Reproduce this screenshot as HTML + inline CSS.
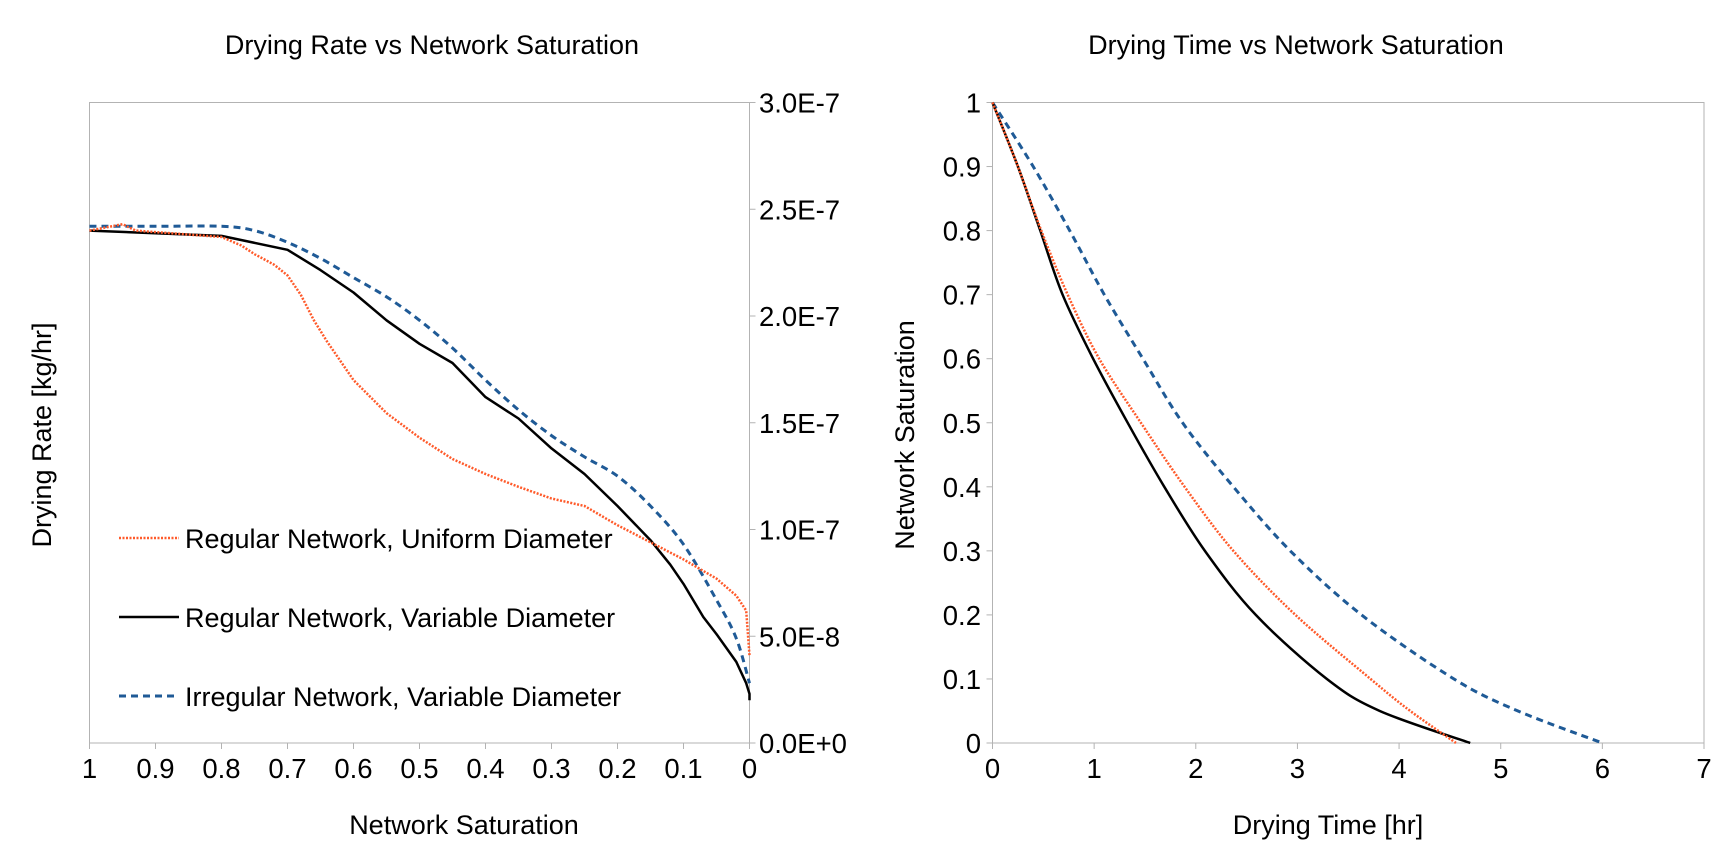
<!DOCTYPE html>
<html><head><meta charset="utf-8"><style>
body{margin:0;background:#fff;}
svg{display:block;font-family:"Liberation Sans",sans-serif;}
</style></head><body>
<svg id="svg" width="1728" height="864" viewBox="0 0 1728 864">
<text x="432" y="54" font-size="27" text-anchor="middle">Drying Rate vs Network Saturation</text>
<text x="1296" y="54" font-size="27" text-anchor="middle">Drying Time vs Network Saturation</text>
<rect x="89.5" y="102.5" width="660" height="640.5" fill="none" stroke="#b3b3b3" stroke-width="1"/>
<rect x="992.5" y="102.5" width="711.5" height="640.5" fill="none" stroke="#b3b3b3" stroke-width="1"/>
<text x="0" y="0" font-size="27" text-anchor="middle" transform="translate(51,435) rotate(-90)">Drying Rate [kg/hr]</text>
<text x="0" y="0" font-size="27" text-anchor="middle" transform="translate(914,435) rotate(-90)">Network Saturation</text>
<text x="464" y="834" font-size="27" text-anchor="middle">Network Saturation</text>
<text x="1328" y="834" font-size="27" text-anchor="middle">Drying Time [hr]</text>
<g id="g"></g>
<g>
<line x1="119" y1="538" x2="179" y2="538" stroke="#ff5a2a" stroke-width="2.5" stroke-dasharray="2,1.5"/>
<text x="185" y="548" font-size="27">Regular Network, Uniform Diameter</text>
<line x1="119" y1="617" x2="179" y2="617" stroke="#000" stroke-width="2.5"/>
<text x="185" y="627" font-size="27">Regular Network, Variable Diameter</text>
<line x1="119" y1="696" x2="179" y2="696" stroke="#1f5a96" stroke-width="3" stroke-dasharray="7,5"/>
<text x="185" y="706" font-size="27">Irregular Network, Variable Diameter</text>
</g>
</svg>
<script>
const leftXTicks=[1,0.9,0.8,0.7,0.6,0.5,0.4,0.3,0.2,0.1,0];
const leftXLabels=["1","0.9","0.8","0.7","0.6","0.5","0.4","0.3","0.2","0.1","0"];
const leftYTicks=[0,5e-8,1e-7,1.5e-7,2e-7,2.5e-7,3e-7];
const leftYLabels=["0.0E+0","5.0E-8","1.0E-7","1.5E-7","2.0E-7","2.5E-7","3.0E-7"];
const rightXTicks=[0,1,2,3,4,5,6,7];
const rightYTicks=[0,0.1,0.2,0.3,0.4,0.5,0.6,0.7,0.8,0.9,1];
const rightYLabels=["0","0.1","0.2","0.3","0.4","0.5","0.6","0.7","0.8","0.9","1"];
// Left: saturation vs drying rate (e-7)
const uniSat=[1,0.95,0.93,0.8,0.77,0.75,0.72,0.7,0.68,0.66,0.64,0.62,0.6,0.55,0.5,0.45,0.4,0.35,0.3,0.25,0.2,0.15,0.1,0.05,0.02,0.005,0];
const uniRate=[2.40,2.43,2.40,2.37,2.33,2.29,2.24,2.19,2.10,1.98,1.88,1.79,1.70,1.545,1.43,1.33,1.26,1.20,1.145,1.11,1.02,0.94,0.86,0.77,0.69,0.62,0.41];
const varSat=[1,0.8,0.7,0.65,0.6,0.55,0.5,0.45,0.4,0.35,0.3,0.25,0.2,0.15,0.12,0.1,0.07,0.05,0.02,0.005,0,0];
const varRate=[2.40,2.375,2.31,2.215,2.11,1.98,1.87,1.78,1.62,1.52,1.38,1.26,1.11,0.95,0.835,0.745,0.59,0.51,0.38,0.28,0.23,0.2];
const irrSat=[1,0.9,0.8,0.75,0.7,0.65,0.6,0.55,0.5,0.45,0.4,0.35,0.3,0.25,0.2,0.15,0.1,0.05,0.02,0];
const irrRate=[2.42,2.42,2.42,2.40,2.345,2.27,2.18,2.09,1.98,1.85,1.70,1.56,1.44,1.34,1.25,1.11,0.93,0.67,0.49,0.28];
// Right: drying time vs saturation
const satLevels=[1,0.9,0.8,0.7,0.6,0.5,0.4,0.3,0.2,0.1,0.05,0];
const uniTime=[0,0.25,0.48,0.74,1.05,1.46,1.89,2.37,2.98,3.72,4.11,4.56];
const varTime=[0,0.25,0.47,0.69,0.99,1.33,1.69,2.09,2.59,3.29,3.81,4.70];
const irrTime=[0,0.40,0.76,1.10,1.48,1.87,2.37,2.93,3.63,4.54,5.17,6.00];

const NS='http://www.w3.org/2000/svg';
const g=document.getElementById('g');
const lx=s=>89.5+(1-s)*660, ly=v=>743-v/3e-7*640.5;
const rx=t=>992.5+t/7*711.5, ry=s=>743-s*640.5;
function mk(tag,attrs){const e=document.createElementNS(NS,tag);for(const k in attrs)e.setAttribute(k,attrs[k]);g.appendChild(e);return e;}
leftXTicks.forEach((s,i)=>{
  const t=mk('line',{x1:lx(s),x2:lx(s),y1:743,y2:749,stroke:'#b3b3b3'});
  
  
  const l=mk('text',{x:lx(s),y:778,'font-size':27.5,'text-anchor':'middle'});l.textContent=leftXLabels[i];
  
  
});
leftYTicks.forEach((v,i)=>{
  const t=mk('line',{x1:749.5,x2:755.5,y1:ly(v),y2:ly(v),stroke:'#b3b3b3'});
  
  
  const l=mk('text',{x:759,y:ly(v)+10,'font-size':27.5});l.textContent=leftYLabels[i];
  
  
});
rightXTicks.forEach(t0=>{
  const t=mk('line',{x1:rx(t0),x2:rx(t0),y1:743,y2:749,stroke:'#b3b3b3'});
  
  
  const l=mk('text',{x:rx(t0),y:778,'font-size':27.5,'text-anchor':'middle'});l.textContent=String(t0);
  
  
});
rightYTicks.forEach((s,i)=>{
  const t=mk('line',{x1:986.5,x2:992.5,y1:ry(s),y2:ry(s),stroke:'#b3b3b3'});
  
  
  const l=mk('text',{x:981,y:ry(s)+10,'font-size':27.5,'text-anchor':'end'});l.textContent=rightYLabels[i];
  
  
});
function path(xs,ys,fx,fy,style,name,smooth){
  const P=xs.map((x,i)=>[fx(x),fy(ys[i])]);
  let d='M'+P[0][0].toFixed(1)+' '+P[0][1].toFixed(1);
  for(let i=0;i<P.length-1;i++){
    if(!smooth){d+=' L'+P[i+1][0].toFixed(1)+' '+P[i+1][1].toFixed(1);continue;}
    const p0=P[Math.max(0,i-1)],p1=P[i],p2=P[i+1],p3=P[Math.min(P.length-1,i+2)];
    const c1=[p1[0]+(p2[0]-p0[0])/6,p1[1]+(p2[1]-p0[1])/6];
    const c2=[p2[0]-(p3[0]-p1[0])/6,p2[1]-(p3[1]-p1[1])/6];
    d+=' C'+c1.map(v=>v.toFixed(1)).join(' ')+' '+c2.map(v=>v.toFixed(1)).join(' ')+' '+p2[0].toFixed(1)+' '+p2[1].toFixed(1);
  }
  const p=mk('path',Object.assign({d:d,fill:'none','stroke-linejoin':'round'},style));
  
  
}
const sU={stroke:'#ff5a2a','stroke-width':2.5,'stroke-dasharray':'2,1.5'};
const sV={stroke:'#000','stroke-width':2.5};
const sI={stroke:'#1f5a96','stroke-width':3,'stroke-dasharray':'7,5'};
path(irrSat,irrRate.map(v=>v*1e-7),lx,ly,sI,'left-irregular-line',true);
path(varSat,varRate.map(v=>v*1e-7),lx,ly,sV,'left-variable-line',false);
path(uniSat,uniRate.map(v=>v*1e-7),lx,ly,sU,'left-uniform-line',false);
path(irrTime,satLevels,rx,ry,sI,'right-irregular-line',true);
path(varTime,satLevels,rx,ry,sV,'right-variable-line',true);
path(uniTime,satLevels,rx,ry,sU,'right-uniform-line',true);
</script>
</body></html>
